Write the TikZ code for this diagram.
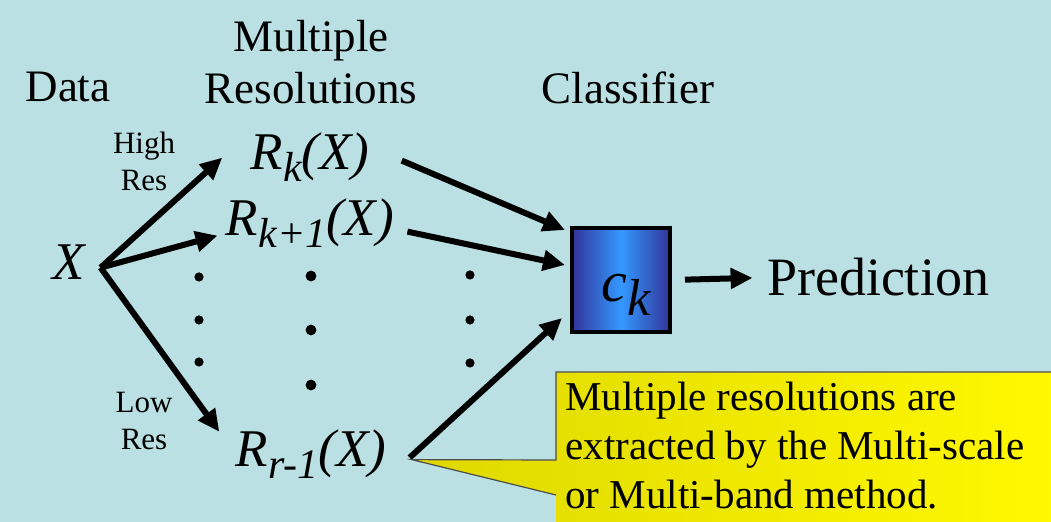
\documentclass[tikz,border=0pt]{standalone}
\usepackage{fontspec}
\setmainfont{Liberation Serif}
\usetikzlibrary{arrows.meta}

\definecolor{slidebg}{RGB}{186,224,227}
\definecolor{boxdark}{RGB}{51,51,153}
\definecolor{boxlight}{RGB}{51,153,255}
\definecolor{notedark}{RGB}{222,216,0}
\definecolor{notelight}{RGB}{255,248,0}

\newcommand{\fsize}[2]{\fontsize{#1}{#2}\selectfont}
\newcommand{\rsub}[1]{\raisebox{-6pt}{\fsize{21pt}{22pt}#1}}

\begin{document}
\begin{tikzpicture}[x=0.5pt,y=-0.5pt,
    title/.style={inner sep=0pt, anchor=base, font=\fsize{22.5pt}{26pt}},
    small/.style={inner sep=0pt, align=center, font=\fsize{15.5pt}{18.5pt}},
    term/.style={inner sep=0pt, anchor=base, font=\fsize{26.5pt}{30pt}\itshape},
    flow/.style={line width=3pt, -{Triangle[length=11pt,width=10pt]}}]
    % slide background
    \fill[slidebg] (0,0) rectangle (1051,522);
    \useasboundingbox (0,0) rectangle (1051,522);

    \node (data) at (68,102) [title] {Data};
    \node (multi) at (311,104) [title, align=center] {Multiple\\Resolutions};
    \node (clfname) at (628,104) [title] {Classifier};

    \node (high) at (144,161) [small] {High\\Res};
    \node (low) at (144,421) [small] {Low\\Res};

    \node (x) at (69,280) [term] {X};
    \node (rk) at (310,170) [term] {R\rsub{k}(X)};
    \node (rk1) at (310,236) [term] {R\rsub{k+1}(X)};
    \node (rr) at (311,467) [term] {R\rsub{r-1}(X)};

    \node (clf) at (621,280) [draw, line width=2pt, minimum width=49pt, minimum height=52pt,
        left color=boxdark, right color=boxdark, middle color=boxlight,
        text height=22pt, text depth=0pt, font=\fsize{29pt}{30pt}\itshape] {\hspace{5pt}c\raisebox{-7pt}{\fsize{26pt}{28pt}k}};
    \node (pred) at (878,296) [title, font=\fsize{27pt}{30pt}] {Prediction};

    \coordinate (fork) at ([shift={(7.5pt,-2.5pt)}]x.east);
    \draw [flow] (fork) -- ([xshift=-14pt]rk.west);
    \draw [flow] (fork) -- ([shift={(-4pt,-6pt)}]rk1.west);
    \draw [flow] (fork) -- ([shift={(-8pt,-1pt)}]rr.north west);

    \draw [flow] ([shift={(16pt,-1.5pt)}]rk.east) -- ([shift={(-2.5pt,-2pt)}]clf.north west);
    \draw [flow] ([shift={(6.5pt,-4pt)}]rk1.east) -- ([shift={(-2.5pt,7.5pt)}]clf.west);
    \draw [flow] ([shift={(11.5pt,-1.5pt)}]rr.east) -- ([shift={(-4pt,8pt)}]clf.south west);
    \draw [flow, shorten <=6.5pt, shorten >=7pt] (clf.east) -- (pred.west);

    % the three columns of dots
    \foreach \px/\py/\r in {199/277/2.3, 199/320/2.3, 199/362/2.3,
                            311/276/2.7, 311/330/2.7, 311/385/2.7,
                            470/275/2.3, 470/320/2.3, 470/363/2.3}
        \fill (\px,\py) circle (\r pt);

    % callout
    \coordinate (tip) at ([shift={(12.5pt,-2.5pt)}]rr.east);
    \shade[left color=notedark, right color=notelight]
        (tip) -- (556,460) -- (556,372) -- (1051,372) -- (1051,522) -- (556,522) -- (556,495) -- cycle;
    \draw[line width=0.6pt, black!70] (556,495) -- (tip) -- (556,460) -- (556,372) -- (1051,372);
    \node (note) at (565,382) [anchor=north west, inner sep=0pt, align=left, font=\fsize{20.5pt}{24.5pt}]
        {Multiple resolutions are\\extracted by the Multi-scale\\or Multi-band method.};
\end{tikzpicture}
\end{document}
